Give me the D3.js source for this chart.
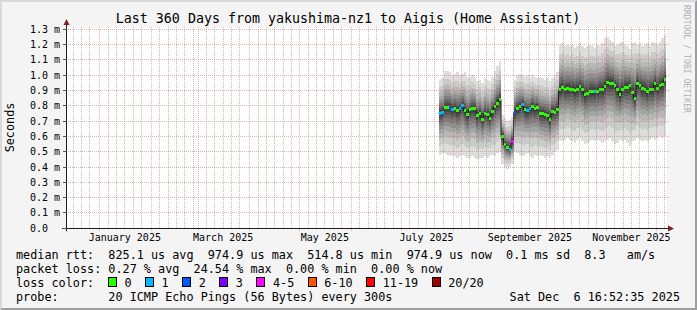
<!DOCTYPE html>
<html>
<head>
<meta charset="utf-8">
<script src="https://cdn.jsdelivr.net/npm/d3@7"></script>
<style>
  html, body { margin: 0; padding: 0; background: #fff; }
  text { font-family: "DejaVu Sans Mono", monospace; }
</style>
</head>
<body>
<script>
'use strict';

// ---- data (values in milliseconds) ----
const endTime = new Date(2025, 11, 6, 16, 52, 35);
const spanDays = 360;
const stepDays = 1.5;   // one consolidated row every 36h

const median = [
  0.752, 0.755, 0.790, 0.792, 0.790, 0.773, 0.784, 0.767, 0.780, 0.800,
  0.770, 0.741, 0.773, 0.784, 0.784, 0.735, 0.752, 0.712, 0.752, 0.741,
  0.719, 0.764, 0.795, 0.817, 0.843, 0.599, 0.545, 0.530, 0.516, 0.565,
  0.756, 0.784, 0.795, 0.806, 0.773, 0.767, 0.780, 0.795, 0.780, 0.791,
  0.752, 0.747, 0.745, 0.735, 0.708, 0.764, 0.758, 0.778, 0.904, 0.921,
  0.904, 0.912, 0.908, 0.910, 0.897, 0.908, 0.925, 0.904, 0.871, 0.882,
  0.891, 0.893, 0.891, 0.893, 0.908, 0.908, 0.925, 0.952, 0.948, 0.948,
  0.930, 0.908, 0.871, 0.904, 0.921, 0.921, 0.930, 0.887, 0.850, 0.943,
  0.930, 0.915, 0.908, 0.893, 0.908, 0.904, 0.943, 0.915, 0.930, 0.937,
  0.974
];

// highest and lowest of the 20 pings in each row
const smokeHi = [
  0.97, 0.98, 1.03, 1.03, 1.02, 1.00, 1.01, 1.02, 1.00, 1.01,
  1.02, 0.99, 0.98, 1.00, 0.99, 0.96, 0.97, 0.95, 0.98, 0.97,
  0.96, 0.99, 1.03, 1.06, 1.09, 0.74, 0.72, 0.70, 0.71, 0.73,
  0.97, 1.00, 1.01, 1.00, 0.99, 1.00, 0.98, 1.00, 0.99, 0.98,
  0.99, 0.98, 0.97, 0.98, 0.96, 0.98, 1.00, 1.02, 1.20, 1.21,
  1.19, 1.20, 1.19, 1.20, 1.18, 1.19, 1.21, 1.19, 1.18, 1.19,
  1.20, 1.19, 1.18, 1.20, 1.19, 1.21, 1.24, 1.25, 1.23, 1.22,
  1.19, 1.20, 1.21, 1.22, 1.20, 1.19, 1.17, 1.21, 1.22, 1.20,
  1.21, 1.19, 1.20, 1.21, 1.19, 1.22, 1.21, 1.20, 1.22, 1.24,
  1.26
];
const smokeLo = [
  0.48, 0.49, 0.49, 0.48, 0.47, 0.48, 0.47, 0.46, 0.47, 0.48,
  0.47, 0.46, 0.46, 0.47, 0.46, 0.45, 0.46, 0.46, 0.47, 0.46,
  0.47, 0.48, 0.47, 0.49, 0.50, 0.42, 0.40, 0.39, 0.40, 0.42,
  0.50, 0.49, 0.48, 0.47, 0.48, 0.49, 0.47, 0.46, 0.48, 0.47,
  0.48, 0.47, 0.46, 0.47, 0.46, 0.48, 0.50, 0.51, 0.58, 0.57,
  0.58, 0.59, 0.58, 0.57, 0.56, 0.58, 0.59, 0.57, 0.55, 0.56,
  0.57, 0.58, 0.57, 0.58, 0.57, 0.56, 0.57, 0.58, 0.59, 0.57,
  0.55, 0.56, 0.58, 0.57, 0.58, 0.56, 0.54, 0.57, 0.58, 0.59,
  0.58, 0.57, 0.58, 0.57, 0.58, 0.59, 0.58, 0.59, 0.60, 0.59,
  0.60
];

// loss class of each row (index into lossNames)
const lossClass = [
  1, 1, 0, 0, 2, 1, 0, 0, 1, 1,
  0, 0, 0, 0, 0, 0, 0, 0, 0, 0,
  0, 0, 0, 0, 0, 0, 0, 0, 1, 4,
  2, 0, 0, 1, 0, 1, 1, 0, 0, 0,
  0, 0, 0, 0, 0, 0, 0, 0, 0, 0,
  0, 0, 0, 0, 0, 0, 0, 0, 0, 0,
  0, 0, 1, 0, 0, 0, 0, 0, 0, 0,
  0, 0, 0, 0, 0, 0, 0, 0, 0, 0,
  0, 0, 0, 0, 0, 0, 0, 0, 0, 0,
  0
];

// where ping pairs 1/20, 2/19 ... 10/11 sit between median and extreme
const pingSpread = [1, 0.78, 0.62, 0.5, 0.4, 0.31, 0.23, 0.16, 0.1, 0.04];

const lossNames = ['0', '1', '2', '3', '4-5', '6-10', '11-19', '20/20'];
const yTicks = [0, 0.1, 0.2, 0.3, 0.4, 0.5, 0.6, 0.7, 0.8, 0.9, 1.0, 1.1, 1.2, 1.3];
const monthLabels = ['January 2025', 'March 2025', 'May 2025', 'July 2025', 'September 2025', 'November 2025'];

const statRtt = 'median rtt:  825.1 us avg  974.9 us max  514.8 us min  974.9 us now  0.1 ms sd  8.3   am/s';
const statLoss = 'packet loss: 0.27 % avg  24.54 % max  0.00 % min  0.00 % now';
const probeText = 'probe:       20 ICMP Echo Pings (56 Bytes) every 300s';
const stampText = 'Sat Dec  6 16:52:35 2025';

// ---- styles ----
const lossColors = ['#26ff00', '#00b8ff', '#0059ff', '#7e00ff', '#ff00ff', '#ff5500', '#ff0000', '#a00000'];
const smokeGrays = ['#dddddd', '#cacaca', '#b7b7b7', '#a4a4a4', '#919191', '#7e7e7e', '#6b6b6b', '#585858', '#454545', '#323232'];
const gridColor = 'rgba(143,143,143,0.6)';
const mgridColor = 'rgba(222,79,79,0.45)';

// keep runs of spaces (svg collapses them)
const keepSpaces = (s) => s.replace(/ /g, '\u00a0');

(function () {
  const W = 697, H = 310;
  const DAY = 86400000;
  const startTime = new Date(endTime.getTime() - spanDays * DAY);

  const svg = d3.select('body').append('svg')
    .attr('width', W)
    .attr('height', H);

  // background with 3d border
  svg.append('rect').attr('width', W).attr('height', H).attr('fill', '#f4f4f4');
  svg.append('path').attr('d', `M0,0H${W}L${W - 2},2H2V${H - 2}L0,${H}Z`).attr('fill', '#d9d9d9');
  svg.append('path').attr('d', `M${W},0V${H}H0L2,${H - 2}H${W - 2}V2Z`).attr('fill', '#9e9e9e');

  const x = d3.scaleTime().domain([startTime, endTime]).range([66, 666]);
  const y = d3.scaleLinear().domain([0, 1.3]).range([228.3, 29.3]);
  const px = (v) => Math.floor(v) + 0.5;

  // canvas
  svg.append('rect')
    .attr('x', x.range()[0]).attr('y', 27)
    .attr('width', x.range()[1] - x.range()[0] + 1)
    .attr('height', y(0) - 27)
    .attr('fill', '#ffffff');

  // rows: each covers (t - step, t]
  const rows = median.map((m, i) => ({
    t: new Date(endTime.getTime() - (median.length - 1 - i) * stepDays * DAY),
    med: m, hi: smokeHi[i], lo: smokeLo[i], loss: lossClass[i]
  }));
  const x0 = (d) => x(new Date(d.t.getTime() - stepDays * DAY));

  // smoke: outer (light) bands first, darker inner bands on top
  const smoke = svg.append('g').attr('shape-rendering', 'crispEdges');
  pingSpread.forEach((f, b) => {
    smoke.append('g').selectAll('rect')
      .data(rows)
      .enter()
      .append('rect')
      .attr('x', x0)
      .attr('width', (d) => x(d.t) - x0(d))
      .attr('y', (d) => y(d.med + f * (d.hi - d.med)))
      .attr('height', (d) => y(d.med - f * (d.med - d.lo)) - y(d.med + f * (d.hi - d.med)))
      .attr('fill', smokeGrays[b]);
  });

  // thin median line
  const medLine = d3.line()
    .x((d) => x(d.t))
    .y((d) => y(d.med))
    .curve(d3.curveStepBefore);
  svg.append('path')
    .datum([{ t: new Date(rows[0].t.getTime() - stepDays * DAY), med: rows[0].med }].concat(rows))
    .attr('d', medLine)
    .attr('fill', 'none')
    .attr('stroke', '#202020')
    .attr('stroke-width', 1);

  // median marks coloured by loss
  svg.append('g').attr('shape-rendering', 'crispEdges')
    .selectAll('rect')
    .data(rows)
    .enter()
    .append('rect')
    .attr('x', x0)
    .attr('width', (d) => x(d.t) - x0(d))
    .attr('y', (d) => y(d.med) - 1.5)
    .attr('height', 3)
    .attr('fill', (d) => lossColors[d.loss]);

  // grid
  const grid = svg.append('g').attr('fill', 'none').attr('stroke-width', 1);
  const months = d3.timeMonth.range(d3.timeMonth.ceil(startTime), endTime);
  const minorDays = d3.timeDay.range(startTime, endTime)
    .filter((d) => [6, 11, 16, 21, 26].includes(d.getDate()));
  grid.selectAll('.minor-x')
    .data(minorDays)
    .enter()
    .append('line')
    .attr('x1', (d) => px(x(d))).attr('x2', (d) => px(x(d)))
    .attr('y1', 27).attr('y2', y(0))
    .attr('stroke', gridColor)
    .attr('stroke-dasharray', '1,1');
  grid.selectAll('.major-x')
    .data(months)
    .enter()
    .append('line')
    .attr('x1', (d) => px(x(d))).attr('x2', (d) => px(x(d)))
    .attr('y1', 27).attr('y2', y(0) + 3)
    .attr('stroke', mgridColor)
    .attr('stroke-dasharray', '1,1');
  grid.selectAll('.major-y')
    .data(yTicks.slice(1))
    .enter()
    .append('line')
    .attr('x1', 64).attr('x2', 669)
    .attr('y1', (d) => px(y(d))).attr('y2', (d) => px(y(d)))
    .attr('stroke', mgridColor)
    .attr('stroke-dasharray', '1,1');

  // axes
  const axisColor = '#1f1f1f';
  svg.append('line')
    .attr('x1', 62).attr('x2', 669)
    .attr('y1', px(y(0))).attr('y2', px(y(0)))
    .attr('stroke', axisColor);
  svg.append('line')
    .attr('x1', px(x.range()[0])).attr('x2', px(x.range()[0]))
    .attr('y1', y(0) + 3).attr('y2', 24)
    .attr('stroke', axisColor);
  svg.selectAll('.ytick')
    .data(yTicks)
    .enter()
    .append('line')
    .attr('x1', 63).attr('x2', px(x.range()[0]))
    .attr('y1', (d) => px(y(d))).attr('y2', (d) => px(y(d)))
    .attr('stroke', '#555');
  // arrows
  const ax = px(x.range()[0]), ay = px(y(0));
  svg.append('path')
    .attr('d', `M${ax - 3},25L${ax + 3},25L${ax},19Z`)
    .attr('fill', '#7f1f1f');
  svg.append('path')
    .attr('d', `M668,${ay - 3}L668,${ay + 3}L674,${ay}Z`)
    .attr('fill', '#7f1f1f');

  // y labels
  svg.selectAll('.ylab')
    .data(yTicks)
    .enter()
    .append('text')
    .attr('x', 60)
    .attr('y', (d) => px(y(d)) + 3.5)
    .attr('text-anchor', 'end')
    .style('font-size', '10px')
    .text((d) => keepSpaces(d === 0 ? '0.0  ' : d3.format('.1f')(d) + ' m'));

  // x labels, centred half a month after the label month starts
  svg.selectAll('.xlab')
    .data(monthLabels)
    .enter()
    .append('text')
    .attr('x', (d) => x(d3.timeDay.offset(new Date(d), 15)))
    .attr('y', 241)
    .attr('text-anchor', 'middle')
    .style('font-size', '10px')
    .text((d) => d);

  // title
  svg.append('text')
    .attr('x', 348)
    .attr('y', 23)
    .attr('text-anchor', 'middle')
    .style('font-size', '13.3px')
    .text('Last 360 Days from yakushima-nz1 to Aigis (Home Assistant)');

  // axis title
  svg.append('text')
    .attr('transform', 'translate(14, 127.5)rotate(-90)')
    .attr('text-anchor', 'middle')
    .style('font-size', '11.8px')
    .text('Seconds');

  // watermark
  svg.append('text')
    .attr('transform', 'translate(684, 5)rotate(90)')
    .attr('textLength', 108)
    .attr('lengthAdjust', 'spacingAndGlyphs')
    .style('font-size', '8.5px')
    .attr('fill', '#b0b0b0')
    .text('RRDTOOL / TOBI OETIKER');

  // legend rows
  const legend = svg.append('g').style('font-size', '11.8px');
  legend.append('text').attr('x', 16).attr('y', 258.5).text(keepSpaces(statRtt));
  legend.append('text').attr('x', 16).attr('y', 272.5).text(keepSpaces(statLoss));
  legend.append('text').attr('x', 16).attr('y', 286.5).text('loss color:');
  legend.append('text').attr('x', 16).attr('y', 300.5).text(keepSpaces(probeText));
  legend.append('text').attr('x', 680).attr('y', 300.5).attr('text-anchor', 'end').text(keepSpaces(stampText));

  // loss colour swatches laid out one after another
  let cx = 108.5;
  lossNames.forEach((name, i) => {
    legend.append('rect')
      .attr('x', cx).attr('y', 277.5)
      .attr('width', 8).attr('height', 9)
      .attr('fill', lossColors[i])
      .attr('stroke', '#000')
      .attr('stroke-width', 1)
      .attr('shape-rendering', 'crispEdges');
    const t = legend.append('text').attr('x', cx + 16).attr('y', 286.5).text(name);
    cx = cx + 16 + t.node().getComputedTextLength() + 14;
  });
})();
</script>
</body>
</html>
